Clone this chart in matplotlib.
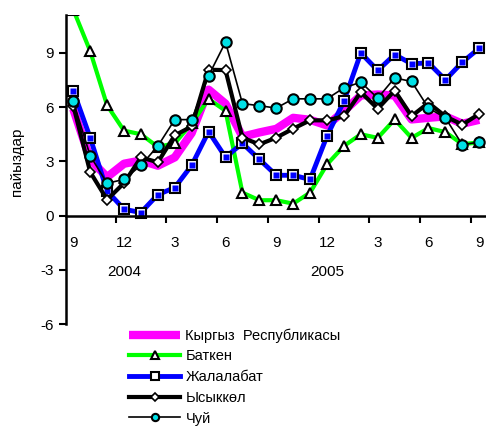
import numpy as np
import matplotlib
matplotlib.use('Agg')
import matplotlib.pyplot as plt

plt.rcParams['font.family'] = ['Liberation Sans', 'DejaVu Sans']
plt.rcParams['axes.unicode_minus'] = False

# months Sep 2004 .. Sep 2006
month_labels = ['9', '12', '3', '6', '9', '12', '3', '6', '9']
year_labels = ['2004', '2005']

kyrgyz = [5.9, 3.1, 2.13, 2.87, 3.05, 2.76, 3.22, 4.57, 6.97, 6.19, 4.37, 4.6, 4.8,
          5.41, 5.3, 4.99, 5.78, 6.65, 6.7, 6.65, 5.32, 5.41, 5.49, 5.08, 5.3]
batken = [11.4, 9.1, 6.1, 4.7, 4.5, 3.8, 4.0, 5.1, 6.45, 5.8, 1.27, 0.85, 0.85,
          0.66, 1.27, 2.83, 3.85, 4.5, 4.3, 5.32, 4.3, 4.84, 4.62, 3.95, 4.05]
jalalabat = [6.92, 4.31, 1.36, 0.35, 0.17, 1.16, 1.55, 2.78, 4.65, 3.23, 4.0, 3.11, 2.23,
             2.23, 2.0, 4.4, 6.33, 9.0, 8.03, 8.91, 8.4, 8.45, 7.51, 8.49, 9.26]
ysykkol = [6.09, 2.41, 0.88, 1.8, 3.22, 2.95, 4.44, 4.93, 8.07, 8.05, 4.31, 3.94, 4.31,
           4.81, 5.27, 5.27, 5.49, 6.83, 5.91, 6.92, 5.5, 6.24, 5.49, 5.03, 5.63]
chuy = [6.32, 3.31, 1.79, 2.0, 2.78, 3.85, 5.31, 5.31, 7.74, 9.6, 6.2, 6.08, 5.95,
        6.46, 6.46, 6.46, 7.07, 7.38, 6.5, 7.62, 7.42, 5.95, 5.41, 3.92, 4.07]

x = np.arange(len(kyrgyz))

fig = plt.figure(figsize=(4.86, 4.28), dpi=100)
ax = fig.add_axes([66 / 486, 1 - 324 / 428, 420 / 486, 309 / 428])

ax.plot(x, kyrgyz, color='#ff00ff', lw=6, solid_capstyle='butt', label='Кыргыз  Республикасы')
ax.plot(x, batken, color='#00ff00', lw=3, marker='^', ms=7.5, mfc='white', mec='black',
        mew=1.5, label='Баткен')
ax.plot(x, jalalabat, color='#0000ff', lw=3.5, marker='s', ms=7.5, mfc='white', mec='black',
        mew=1.5, label='Жалалабат')
ax.plot(x, jalalabat, ls='none', marker='s', ms=4, mfc='#0000ff', mec='none')
ax.plot(x, ysykkol, color='black', lw=3, marker='D', ms=5.5, mfc='white', mec='black',
        mew=1.2, label='Ысыккөл')
ax.plot(x, chuy, color='black', lw=1.2, marker='o', ms=7.5, mfc='#00e0e6', mec='black',
        mew=1.5, label='Чуй')

ax.set_xlim(-0.43, 24.4)
ax.set_ylim(-6, 11.1)

ax.spines['top'].set_visible(False)
ax.spines['right'].set_visible(False)
ax.spines['bottom'].set_position(('data', 0))
ax.spines['left'].set_linewidth(1.8)
ax.spines['bottom'].set_linewidth(1.8)

ax.set_yticks([-6, -3, 0, 3, 6, 9])
ax.tick_params(axis='y', direction='out', length=5, width=1.5, labelsize=11)
ax.set_xticks(np.arange(2.5, 24, 3))
ax.set_xticklabels([])
ax.tick_params(axis='x', direction='out', length=5, width=1.5)

for k, lab in enumerate(month_labels):
    ax.text(3 * k, -1.5, lab, ha='center', va='center', fontsize=11)
for k, lab in enumerate(year_labels):
    ax.text(3 + 12 * k, -3.15, lab, ha='center', va='center', fontsize=11)

fig.text(17 / 486, 1 - 162 / 428, 'пайыздар', rotation=90, ha='center', va='center',
         fontsize=11)

fig.legend(loc='upper left', bbox_to_anchor=(122 / 486, 1 - 321 / 428), frameon=False,
           fontsize=10.5, handlelength=3.5, labelspacing=0.46, handletextpad=0.35,
           borderpad=0, numpoints=1, markerscale=0.7)

fig.savefig('out.png', dpi=100)
